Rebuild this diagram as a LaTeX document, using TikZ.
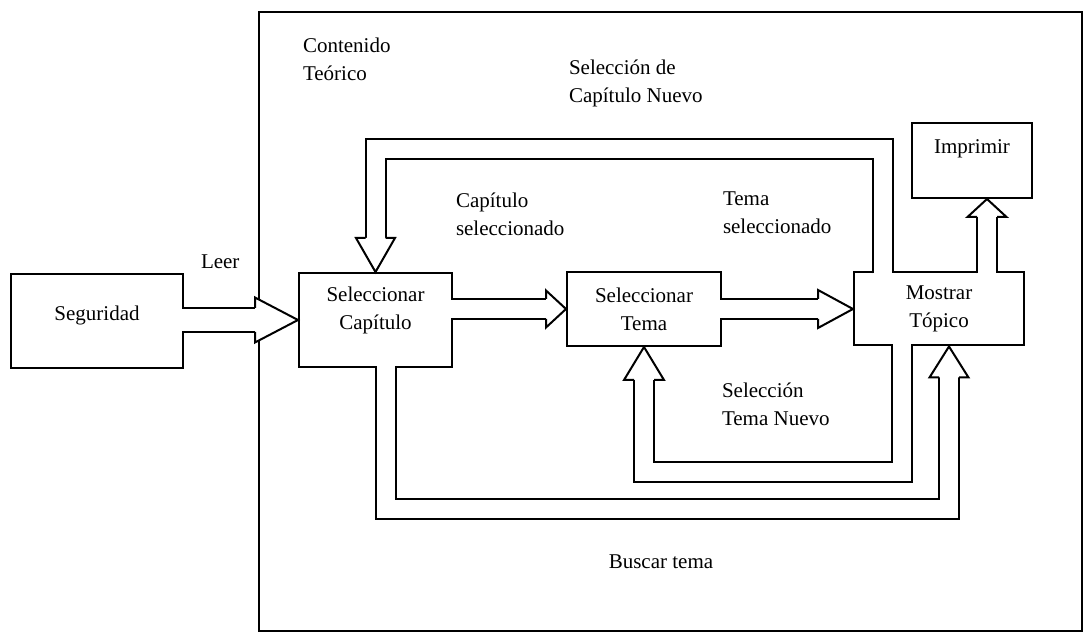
\documentclass[tikz,border=0pt]{standalone}
\usepackage{fontspec}
\setmainfont{Liberation Serif}
\usetikzlibrary{calc}

% hollow arrow head: tip, rotation, length, half width, shaft half width
\newcommand{\blockhead}[5]{%
	\begin{scope}[shift={(#1)}, rotate=#2]
		\filldraw[fill=white, line join=miter] (-#3,#5) -- (-#3,#4) -- (0,0) -- (-#3,-#4) -- (-#3,-#5);
	\end{scope}}

\begin{document}
\begin{tikzpicture}[x=0.5pt, y=-0.5pt, line width=1pt,
	every node/.style={font=\fontsize{10.5}{14}\selectfont},
	box/.style={draw, align=center, inner sep=0pt},
	tag/.style={align=left, anchor=west, inner sep=0pt},
	shaft/.style={double=white, double distance=9pt, line cap=butt, line join=miter}]
	\useasboundingbox (0,0) rectangle (1084,635);
	\draw (259,12) rectangle (1082,631);

	\node[box, minimum width=86pt, minimum height=47pt, text depth=8pt] (seg) at (97,321) {Seguridad};
	\node[box, minimum width=76.5pt, minimum height=47pt, text depth=12pt] (sc) at (375.5,320) {Seleccionar\\Capítulo};
	\node[box, minimum width=77pt, minimum height=37pt] (st) at (644,309) {Seleccionar\\Tema};
	\node[box, minimum width=85pt, minimum height=36.5pt] (mt) at (939,309) {Mostrar\\Tópico};
	\node[box, minimum width=60pt, minimum height=37.5pt, text depth=14pt] (imp) at (972,160.5) {Imprimir};

	\node[tag] (leer) at (200,262) {Leer};
	\node[tag] (cont) at (302,59) {Contenido\\Teórico};
	\node[tag] (selcap) at (568,83) {Selección de\\Capítulo Nuevo};
	\node[tag] (capsel) at (455,214) {Capítulo\\seleccionado};
	\node[tag] (temasel) at (722,213) {Tema\\seleccionado};
	\node[tag] (seltema) at (721,404) {Selección\\Tema Nuevo};
	\node (buscar) at (661,562) {Buscar tema};

	% Leer
	\draw[shaft, double distance=11pt] ($(seg.east |- sc.west)+(-2,0)$) -- ($(sc.west)+(-43,0)$);
	\blockhead{sc.west}{0}{43}{22.5}{12}
	\draw[shaft] ($(sc.east |- st.west)+(-2,0)$) -- ($(st.west)+(-20,0)$);
	\blockhead{st.west}{0}{20}{18.5}{10}
	\draw[shaft] ($(st.east)+(-2,0)$) -- ($(mt.west)+(-35,0)$);
	\blockhead{mt.west}{0}{35}{19}{10}
	\coordinate (imptip) at ($(imp.south)+(15,0)$);
	\draw[shaft] ($(mt.north -| imptip)+(0,2)$) -- ($(imptip)+(0,18)$);
	\blockhead{imptip}{90}{18}{19.5}{10}
	% Seleccion de capitulo nuevo
	\draw[shaft] ($(mt.north)+(-56,2)$) |- ($(sc.north)+(0,-123)$) -- ($(sc.north)+(0,-34)$);
	\blockhead{sc.north}{-90}{34}{19.5}{10}
	% Seleccion tema nuevo
	\draw[shaft] ($(mt.south)+(-37.5,-2)$) |- ($(st.south)+(0,125)$) -- ($(st.south)+(0,33)$);
	\blockhead{st.south}{90}{33}{20}{10}
	% Buscar tema
	\coordinate (buscartip) at ($(mt.south)+(10,0)$);
	\draw[shaft] ($(sc.south)+(10.5,-2)$) |- ($(buscartip)+(0,163)$) -- ($(buscartip)+(0,31)$);
	\blockhead{buscartip}{90}{31}{19.5}{10}
\end{tikzpicture}
\end{document}
